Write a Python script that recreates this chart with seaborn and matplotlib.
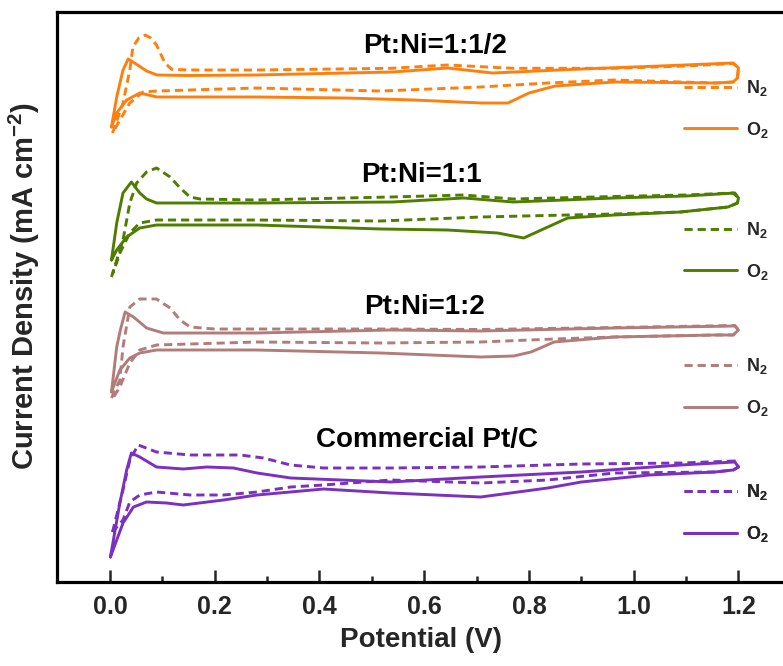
import matplotlib
matplotlib.use("Agg")
import matplotlib.pyplot as plt
from matplotlib.lines import Line2D
import seaborn as sns

# ---------------- data (potential in V, current density in offset a.u.) ----------------
samples = ["Pt:Ni=1:1/2", "Pt:Ni=1:1", "Pt:Ni=1:2", "Commercial Pt/C"]
colors = ["#FF7F0E", "#4E7D00", "#B27C7A", "#7B30BF"]

# Pt:Ni=1:1/2
o12_O2_V = [0.003, 0.013, 0.025, 0.035, 0.05, 0.07, 0.09, 0.15, 0.28, 0.45, 0.54, 0.645, 0.73, 0.9, 1.05, 1.19, 1.2,
            1.198, 1.19, 1.155, 0.963, 0.85, 0.80, 0.76, 0.71, 0.58, 0.45, 0.28, 0.09, 0.057, 0.032, 0.013, 0.003]
o12_O2_j = [4.55, 4.85, 5.12, 5.23, 5.18, 5.11, 5.07, 5.065, 5.07, 5.09, 5.10, 5.14, 5.09, 5.13, 5.16, 5.19, 5.14,
            5.04, 5.00, 4.99, 5.00, 4.96, 4.89, 4.79, 4.79, 4.82, 4.84, 4.85, 4.85, 4.89, 4.82, 4.69, 4.55]
o12_N2_V = [0.005, 0.025, 0.038, 0.044, 0.055, 0.067, 0.078, 0.089, 0.105, 0.118, 0.15, 0.28, 0.536, 0.644, 0.77, 0.963, 1.1, 1.19, 1.2,
            1.198, 1.19, 1.155, 0.963, 0.836, 0.708, 0.517, 0.28, 0.089, 0.063, 0.038, 0.019, 0.005]
o12_N2_j = [4.49, 4.79, 5.12, 5.35, 5.44, 5.47, 5.44, 5.37, 5.19, 5.127, 5.12, 5.12, 5.137, 5.17, 5.137, 5.137, 5.16, 5.185, 5.14,
            5.04, 5.00, 4.99, 5.02, 4.99, 4.95, 4.91, 4.94, 4.91, 4.90, 4.79, 4.62, 4.49]

# Pt:Ni=1:1
o11_O2_V = [0.003, 0.013, 0.025, 0.041, 0.057, 0.07, 0.089, 0.28, 0.54, 0.676, 0.77, 0.963, 1.1, 1.193, 1.2,
            1.198, 1.18, 1.09, 0.963, 0.874, 0.836, 0.79, 0.74, 0.644, 0.517, 0.28, 0.089, 0.057, 0.032, 0.013, 0.003]
o11_O2_j = [3.22, 3.59, 3.89, 4.00, 3.89, 3.83, 3.79, 3.79, 3.80, 3.84, 3.80, 3.84, 3.86, 3.89, 3.84,
            3.79, 3.75, 3.70, 3.67, 3.64, 3.55, 3.44, 3.49, 3.52, 3.53, 3.57, 3.57, 3.54, 3.45, 3.32, 3.22]
o11_N2_V = [0.003, 0.025, 0.038, 0.051, 0.07, 0.089, 0.115, 0.134, 0.153, 0.172, 0.28, 0.536, 0.676, 0.77, 0.963, 1.1, 1.19, 1.2,
            1.198, 1.18, 1.09, 0.963, 0.874, 0.708, 0.517, 0.28, 0.089, 0.057, 0.038, 0.019, 0.006]
o11_N2_j = [3.05, 3.42, 3.79, 3.99, 4.10, 4.14, 4.05, 3.94, 3.85, 3.83, 3.82, 3.85, 3.87, 3.83, 3.855, 3.87, 3.89, 3.84,
            3.79, 3.75, 3.70, 3.68, 3.67, 3.65, 3.61, 3.62, 3.62, 3.59, 3.49, 3.29, 3.09]

# Pt:Ni=1:2
o12b_O2_V = [0.003, 0.013, 0.02, 0.029, 0.045, 0.07, 0.102, 0.28, 0.536, 0.708, 0.963, 1.193, 1.2,
             1.19, 1.155, 0.963, 0.848, 0.804, 0.771, 0.708, 0.517, 0.28, 0.089, 0.057, 0.038, 0.019, 0.003]
o12b_O2_j = [1.90, 2.35, 2.52, 2.70, 2.65, 2.54, 2.49, 2.49, 2.52, 2.51, 2.54, 2.56, 2.52,
             2.47, 2.47, 2.45, 2.40, 2.30, 2.26, 2.25, 2.29, 2.32, 2.32, 2.29, 2.24, 2.12, 1.90]
o12b_N2_V = [0.003, 0.019, 0.025, 0.038, 0.057, 0.089, 0.115, 0.134, 0.153, 0.2, 0.536, 0.708, 0.963, 1.193, 1.2,
             1.19, 1.155, 0.963, 0.848, 0.708, 0.517, 0.28, 0.089, 0.057, 0.038, 0.019, 0.006]
o12b_N2_j = [1.84, 2.02, 2.35, 2.75, 2.83, 2.83, 2.74, 2.62, 2.55, 2.53, 2.53, 2.525, 2.545, 2.565, 2.52,
             2.47, 2.47, 2.45, 2.43, 2.40, 2.39, 2.40, 2.37, 2.32, 2.19, 1.95, 1.84]

# Commercial Pt/C
ptc_O2_V = [0.001, 0.019, 0.032, 0.041, 0.057, 0.089, 0.14, 0.185, 0.236, 0.281, 0.345, 0.536, 0.708, 0.9, 1.09, 1.193, 1.2,
            1.19, 1.155, 1.03, 0.9, 0.836, 0.708, 0.536, 0.408, 0.281, 0.217, 0.14, 0.108, 0.07, 0.045, 0.025, 0.001]
ptc_O2_j = [0.25, 0.79, 1.12, 1.29, 1.25, 1.15, 1.13, 1.15, 1.14, 1.09, 1.04, 1.00, 1.05, 1.10, 1.17, 1.20, 1.15,
            1.12, 1.10, 1.07, 1.00, 0.94, 0.85, 0.89, 0.93, 0.87, 0.82, 0.77, 0.79, 0.80, 0.75, 0.59, 0.25]
ptc_N2_V = [0.005, 0.025, 0.038, 0.054, 0.089, 0.153, 0.249, 0.293, 0.345, 0.408, 0.536, 0.708, 0.9, 1.09, 1.193, 1.2,
            1.19, 1.155, 0.963, 0.836, 0.708, 0.536, 0.408, 0.345, 0.281, 0.217, 0.153, 0.089, 0.057, 0.038, 0.025, 0.005]
ptc_N2_j = [0.50, 0.92, 1.22, 1.37, 1.30, 1.27, 1.27, 1.24, 1.17, 1.14, 1.14, 1.15, 1.18, 1.19, 1.21, 1.15,
            1.12, 1.10, 1.09, 1.02, 0.99, 1.02, 0.97, 0.95, 0.90, 0.87, 0.87, 0.90, 0.87, 0.80, 0.62, 0.50]

curves = [
    (o12_N2_V, o12_N2_j, o12_O2_V, o12_O2_j),
    (o11_N2_V, o11_N2_j, o11_O2_V, o11_O2_j),
    (o12b_N2_V, o12b_N2_j, o12b_O2_V, o12b_O2_j),
    (ptc_N2_V, ptc_N2_j, ptc_O2_V, ptc_O2_j),
]
title_pos = [(0.621, 5.36), (0.595, 4.07), (0.600, 2.75), (0.605, 1.42)]
legend_y = [0.830, 0.581, 0.342, 0.121]
gas_labels = ["N$_\\mathbf{2}$", "O$_\\mathbf{2}$"]
xticks = [0.0, 0.2, 0.4, 0.6, 0.8, 1.0, 1.2]
xminor = [0.1, 0.3, 0.5, 0.7, 0.9, 1.1]

# ---------------- figure ----------------
sns.set_style("white")
plt.rcParams["font.family"] = ["Liberation Sans", "DejaVu Sans"]
plt.rcParams["mathtext.fontset"] = "custom"
plt.rcParams["mathtext.rm"] = "Liberation Sans:bold"
plt.rcParams["mathtext.bf"] = "Liberation Sans:bold"
plt.rcParams["mathtext.it"] = "Liberation Sans:bold"

fig = plt.figure(figsize=(7.83, 6.66), dpi=100)
ax = fig.add_axes([57 / 783, 1 - 582 / 666, 1 - 57 / 783 + 0.002, (582 - 12) / 666])

lw = 2.1
dash = (0, (2.8, 1.7))
for (nV, nj, oV, oj), c in zip(curves, colors):
    sns.lineplot(x=nV, y=nj, sort=False, estimator=None, color=c, lw=lw, linestyle=dash, ax=ax)
    sns.lineplot(x=oV, y=oj, sort=False, estimator=None, color=c, lw=lw, ax=ax)

for name, (tx, ty) in zip(samples, title_pos):
    ax.text(tx, ty, name, ha="center", va="center", fontsize=20, fontweight="bold", color="black")

for c, ly in zip(colors, legend_y):
    handles = [Line2D([], [], color=c, lw=lw, linestyle=dash),
               Line2D([], [], color=c, lw=lw)]
    leg = ax.legend(handles, gas_labels, loc="center left", bbox_to_anchor=(0.862, ly),
                    frameon=False, handlelength=2.9, handletextpad=0.5,
                    labelspacing=1.2, borderpad=0, borderaxespad=0,
                    prop={"weight": "bold", "size": 13})
    ax.add_artist(leg)

ax.set_xlim(-0.101, 1.288)
ax.set_ylim(0.0, 5.70)
ax.set_xticks(xticks)
ax.set_xticks(xminor, minor=True)
ax.set_xticklabels([f"{t:.1f}" for t in xticks], fontweight="bold", fontsize=18)
ax.set_yticks([])
ax.tick_params(axis="x", which="major", direction="in", length=8.5, width=1.8, pad=9, bottom=True)
ax.tick_params(axis="x", which="minor", direction="in", length=4.3, width=1.8, bottom=True)

for s in ["left", "bottom", "top"]:
    ax.spines[s].set_linewidth(2.3)
    ax.spines[s].set_color("black")
ax.spines["right"].set_visible(False)

ax.set_xlabel("Potential (V)", fontweight="bold", fontsize=20, labelpad=6)
ax.set_ylabel("Current Density (mA cm$^{\\mathbf{-2}}$)", fontweight="bold", fontsize=21)
ax.yaxis.set_label_coords(-0.020, 0.52)

fig.savefig("out.png", dpi=100)
